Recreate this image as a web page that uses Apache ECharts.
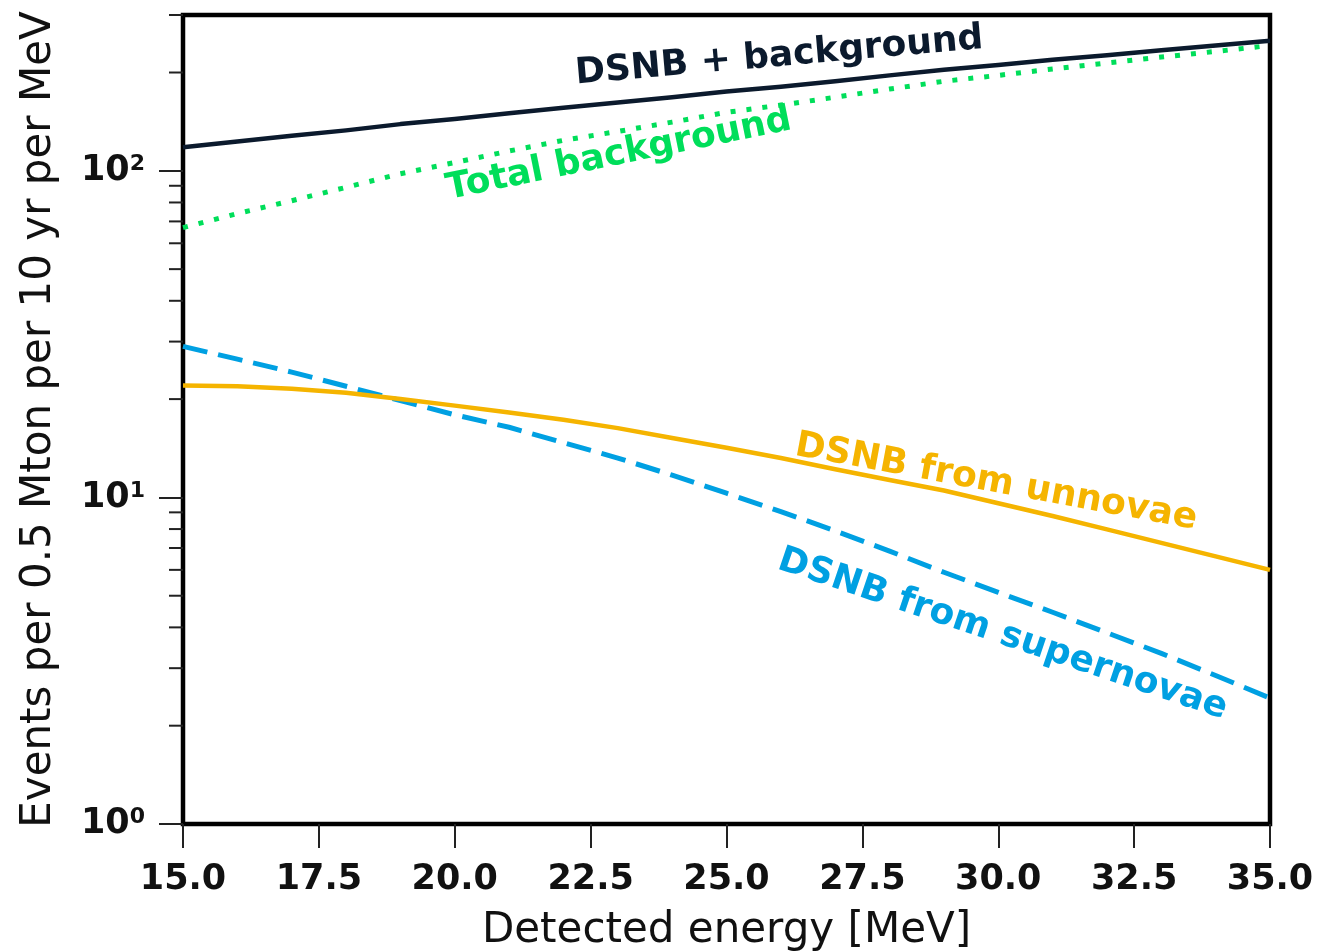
<!DOCTYPE html>
<html>
<head>
<meta charset="utf-8">
<script src="https://cdn.jsdelivr.net/npm/echarts/dist/echarts.min.js"></script>
<style>
html,body{margin:0;padding:0;background:#fff;}
#chart{width:1340px;height:952px;}
</style>
</head>
<body>
<div id="chart"></div>
<script>
// ---- data ----
const energy = [15,16,17,18,19,20,21,22,23,24,25,26,27,28,29,30,31,32,33,34,35];
const dsnbPlusBackground = [118,123,128,133,139,144,150,156,162,168,175,181,188,196,204,211,219,226,234,242,250];
const totalBackground = [67,74,81,89,98,106,115,124,132,141,151,159,168,178,188,196,205,214,223,232,242];
const dsnbUnnovae = [22.0,21.9,21.5,20.9,20.0,19.1,18.2,17.3,16.3,15.2,14.2,13.2,12.2,11.3,10.5,9.6,8.77,7.98,7.26,6.6,6.0];
const dsnbSupernovae = [29.0,26.5,24.2,21.9,19.8,17.9,16.4,14.7,13.2,11.7,10.3,9.05,7.9,6.85,5.9,5.12,4.45,3.85,3.33,2.85,2.43];
const xMin = 15, xMax = 35, xStep = 2.5;
const yMin = 1, yMax = 300;
const yMajorTicks = [1, 10, 100];
const yMinorTicks = [2,3,4,5,6,7,8,9,20,30,40,50,60,70,80,90,200,300];
const labelTexts = ['DSNB + background','Total background','DSNB from unnovae','DSNB from supernovae'];

// ---- styling ----
const FONT = 'DejaVu Sans';
const cBlack = '#0b1a2d', cGreen = '#00de5a', cOrange = '#f5b400', cBlue = '#00a0e2';

function zip(xs, ys){ return xs.map((x,i)=>[x, ys[i]]); }
function annot(text, coord, rot, color){
  return {
    symbol: 'circle', symbolSize: 1, itemStyle: {color: 'rgba(0,0,0,0)'},
    silent: true,
    data: [{coord: coord, label: {show: true, position: 'inside', formatter: text, rotate: rot,
      color: color, fontFamily: FONT, fontWeight: 'bold', fontSize: 36}}]
  };
}
function lineSeries(name, values, lineStyle, z, mark){
  return {name: name, type: 'line', data: zip(energy, values), showSymbol: false,
    smooth: false, lineStyle: Object.assign({join: 'round'}, lineStyle), z: z, markPoint: mark};
}

const chart = echarts.init(document.getElementById('chart'), null, {renderer: 'canvas'});
chart.setOption({
  animation: false,
  backgroundColor: '#fff',
  grid: {left: 183, right: 70, top: 15, bottom: 128, containLabel: false, outerBoundsMode: 'none',
    show: true, borderColor: '#000', borderWidth: 4.5, backgroundColor: 'transparent'},
  xAxis: {
    type: 'value', min: xMin, max: xMax, interval: xStep,
    name: 'Detected energy [MeV]', nameLocation: 'middle', nameGap: 86,
    nameTextStyle: {fontFamily: FONT, fontSize: 42, color: '#111'},
    axisLine: {show: false},
    axisTick: {show: true, length: 24, lineStyle: {color: '#222', width: 2}},
    axisLabel: {margin: 38, fontFamily: FONT, fontWeight: 'bold', fontSize: 35, color: '#111', lineHeight: 35,
      formatter: v => v.toFixed(1)},
    splitLine: {show: false}
  },
  yAxis: {
    type: 'log', logBase: 10, min: yMin, max: yMax,
    name: 'Events per 0.5 Mton per 10 yr per MeV', nameLocation: 'middle', nameGap: 123,
    nameTextStyle: {fontFamily: FONT, fontSize: 42, color: '#111'},
    axisLine: {show: false},
    axisTick: {show: true, length: 24, customValues: yMajorTicks, lineStyle: {color: '#222', width: 2}},
    axisLabel: {margin: 38, color: '#111', customValues: yMajorTicks,
      formatter: v => '{b|10}{s|' + Math.round(Math.log10(v)) + '}',
      rich: {
        b: {fontFamily: FONT, fontWeight: 'bold', fontSize: 35, lineHeight: 35, verticalAlign: 'bottom', padding: [2,0,0,0], color: '#111'},
        s: {fontFamily: FONT, fontWeight: 'bold', fontSize: 22, lineHeight: 22, verticalAlign: 'top', color: '#111'}
      }
    },
    splitLine: {show: false}
  },
  series: [
    lineSeries(labelTexts[1], totalBackground, {color: cGreen, width: 5, type: [5, 11], cap: 'butt'}, 2,
      annot(labelTexts[1], [23.02, 112], 11.5, cGreen)),
    lineSeries(labelTexts[0], dsnbPlusBackground, {color: cBlack, width: 4.5}, 3,
      annot(labelTexts[0], [25.97, 224], 5, cBlack)),
    lineSeries(labelTexts[3], dsnbSupernovae, {color: cBlue, width: 5, type: [25, 11], cap: 'butt'}, 2,
      annot(labelTexts[3], [30.08, 3.80], -18.6, cBlue)),
    lineSeries(labelTexts[2], dsnbUnnovae, {color: cOrange, width: 4.5}, 3,
      annot(labelTexts[2], [29.96, 11.1], -10.5, cOrange)),
    {
      type: 'custom', clip: false, silent: true, z: 5,
      data: yMinorTicks.map(v => [xMin, v]),
      renderItem: (params, api) => {
        const p = api.coord([api.value(0), api.value(1)]);
        return {type: 'line', shape: {x1: p[0] - 14, y1: p[1], x2: p[0], y2: p[1]},
          style: {stroke: '#222', lineWidth: 2}};
      }
    }
  ]
});
</script>
</body>
</html>
